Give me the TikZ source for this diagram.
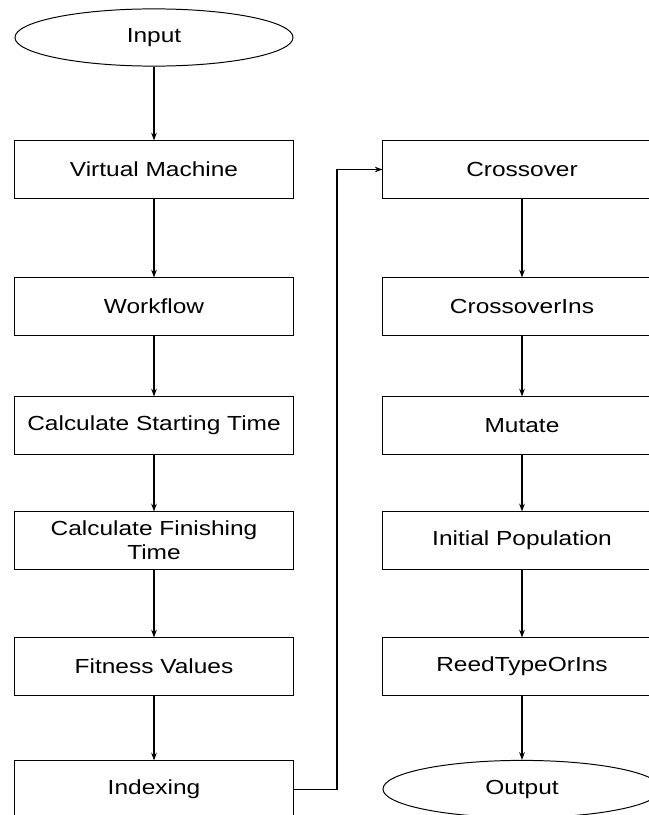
\documentclass[tikz,border=0pt]{standalone}
\usepackage{fontspec}
\newfontfamily\flowfont{Liberation Sans}[FakeStretch=1.2]
\usetikzlibrary{arrows.meta,shapes.geometric}
\tikzset{
  stepbox/.style={draw=black, line width=0.7pt, rectangle, minimum width=6.95cm, minimum height=1.43cm, inner sep=0pt, align=center, font=\flowfont\fontsize{14.5}{17}\selectfont},
  termbox/.style={stepbox, ellipse},
  flow/.style={draw=black, line width=0.8pt, -{Stealth[length=5.5pt,width=4pt]}}
}
\begin{document}
\begin{tikzpicture}[x=0.025cm, y=-0.025cm]
\useasboundingbox (0,0) rectangle (649,815);
% left column
\node[termbox] (input) at (154,37.5) {Input};
\node[stepbox] (vm) at (154,169.5) {Virtual Machine};
\node[stepbox] (wf) at (154,306.5) {Workflow};
\node[stepbox] (cst) at (154,425.5) {Calculate Starting Time};
\node[stepbox] (cft) at (154,540.5) {Calculate Finishing\\Time};
\node[stepbox] (fit) at (154,666.5) {Fitness Values};
\node[stepbox] (idx) at (154,789.5) {Indexing};
% right column
\node[stepbox] (cross) at (522,169.5) {Crossover};
\node[stepbox] (crossins) at (522,306.5) {CrossoverIns};
\node[stepbox] (mut) at (522,425.5) {Mutate};
\node[stepbox] (initpop) at (522,540.5) {Initial Population};
\node[stepbox] (reed) at (522,666.5) {ReedTypeOrIns};
\node[termbox] (output) at (522,789) {Output};
\coordinate (turn) at (337,789.5);
\draw[flow] (input) -- (vm);
\draw[flow] (vm) -- (wf);
\draw[flow] (wf) -- (cst);
\draw[flow] (cst) -- (cft);
\draw[flow] (cft) -- (fit);
\draw[flow] (fit) -- (idx);
\draw[flow] (idx.east) -- (turn) |- (cross.west);
\draw[flow] (cross) -- (crossins);
\draw[flow] (crossins) -- (mut);
\draw[flow] (mut) -- (initpop);
\draw[flow] (initpop) -- (reed);
\draw[flow] (reed) -- (output);
\end{tikzpicture}
\end{document}
